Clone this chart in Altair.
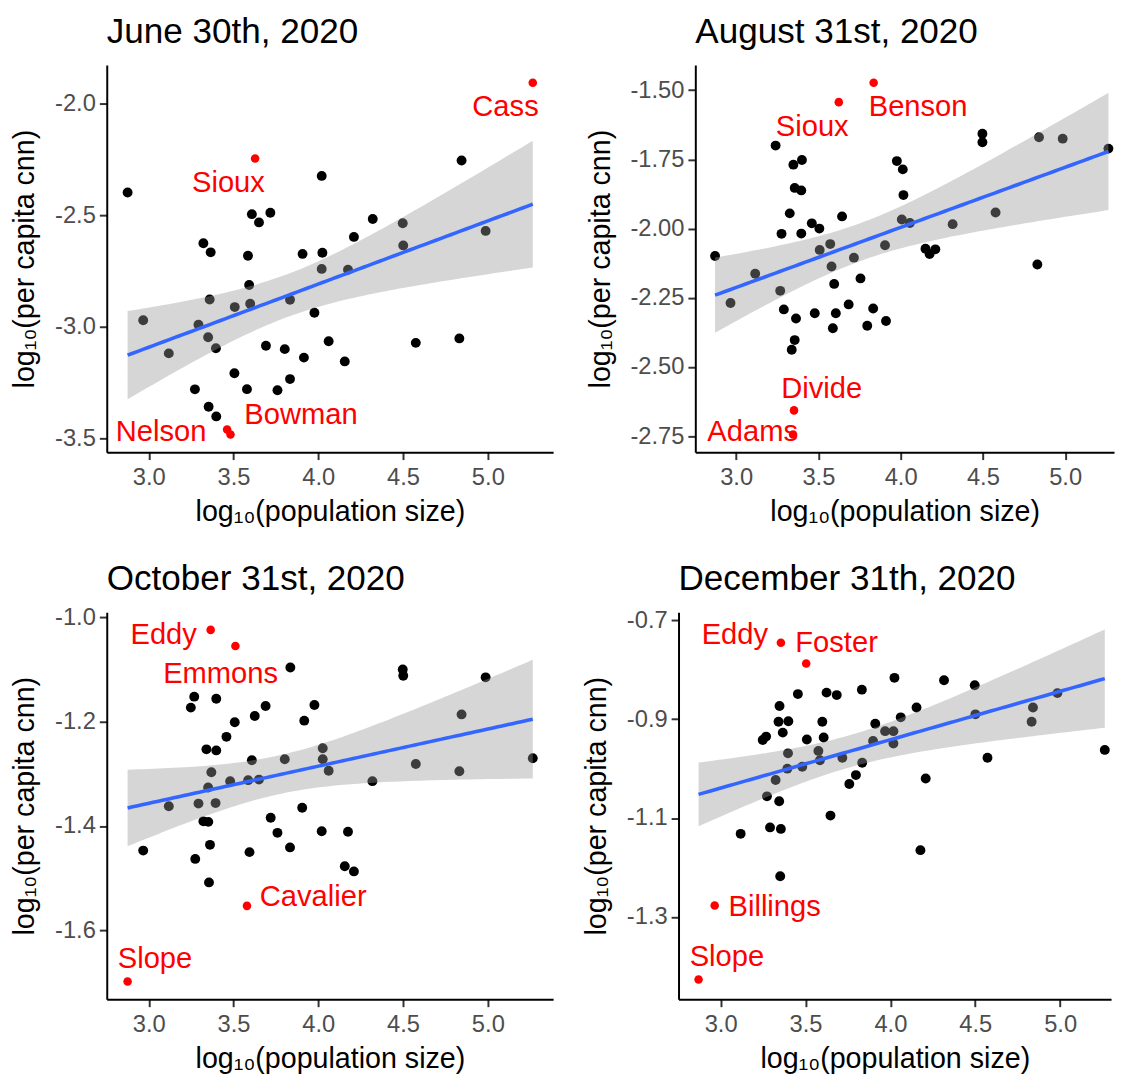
import altair as alt
import numpy as np
import pandas as pd

FONT = "Liberation Sans"

titles = ["June 30th, 2020", "August 31st, 2020", "October 31st, 2020", "December 31th, 2020"]
x_title = "log\u2081\u2080(population size)"
y_title = "log\u2081\u2080(per capita cnn)"
x_ticks = [3.0, 3.5, 4.0, 4.5, 5.0]

# ---------------- June 30th, 2020 ----------------
jun_x = [2.875, 2.967, 3.118, 3.293, 3.322, 3.365, 3.359, 3.350, 3.396, 3.272, 3.353, 3.398,
         3.507, 3.505, 3.579, 3.585, 3.592, 3.598, 3.608, 3.650, 3.717, 3.691, 3.759, 3.802,
         3.833, 3.833, 3.915, 3.907, 3.977, 4.020, 4.024, 4.020, 4.061, 4.156, 4.175, 4.210,
         4.321, 4.498, 4.501, 4.575, 4.832, 4.845, 4.987]
jun_y = [-2.398, -2.970, -3.118, -2.990, -2.625, -2.666, -2.877, -3.046, -3.095, -3.279, -3.357, -3.400,
         -2.911, -3.207, -3.278, -2.681, -2.812, -2.896, -2.495, -2.532, -2.489, -3.084, -3.283, -3.099,
         -2.878, -3.233, -3.137, -2.673, -2.936, -2.740, -2.668, -2.324, -3.064, -3.154, -2.744, -2.597,
         -2.517, -2.536, -2.635, -3.071, -3.051, -2.255, -2.570]
jun_red_names = ["Cass", "Sioux", "Bowman", "Nelson"]
jun_red_x = [5.265, 3.627, 3.482, 3.462]
jun_red_y = [-1.907, -2.246, -3.481, -3.459]
jun_y_ticks = [-3.5, -3.0, -2.5, -2.0]

# ---------------- August 31st, 2020 ----------------
aug_x = [3.240, 3.348, 3.400, 3.356, 3.396, 3.326, 3.276, 3.396, 3.460, 3.506, 3.644, 2.872,
         2.966, 3.116, 3.268, 3.290, 3.364, 3.356, 3.338, 3.508, 3.572, 3.580, 3.596, 3.478,
         3.606, 3.588, 3.716, 3.756, 3.684, 3.833, 3.797, 3.911, 3.905, 3.977, 4.013, 4.017,
         4.007, 4.056, 4.151, 4.176, 4.211, 4.316, 4.497, 4.497, 4.577, 4.831, 4.841, 4.985, 5.263]
aug_y = [-1.700, -1.769, -1.752, -1.853, -1.862, -1.945, -2.019, -2.018, -1.981, -2.000, -1.956, -2.099,
         -2.269, -2.163, -2.225, -2.292, -2.325, -2.403, -2.438, -2.077, -2.056, -2.137, -2.200, -2.306,
         -2.306, -2.360, -2.105, -2.180, -2.274, -2.289, -2.351, -2.334, -2.060, -1.756, -1.786, -1.879,
         -1.967, -1.980, -2.073, -2.092, -2.075, -1.984, -1.657, -1.688, -1.942, -2.130, -1.670, -1.675, -1.711]
aug_red_names = ["Benson", "Sioux", "Divide", "Adams"]
aug_red_x = [3.836, 3.624, 3.352, 3.346]
aug_red_y = [-1.473, -1.543, -2.657, -2.744]
aug_y_ticks = [-2.75, -2.5, -2.25, -2.0, -1.75, -1.5]

# ---------------- October 31st, 2020 ----------------
oct_x = [3.835, 3.268, 3.248, 3.398, 3.689, 3.977, 3.625, 3.507, 3.917, 3.458, 3.340, 3.398,
         3.608, 3.802, 3.369, 3.480, 3.586, 3.650, 3.350, 3.118, 3.293, 3.394, 3.905, 3.322,
         3.351, 3.719, 3.759, 4.020, 2.967, 3.361, 3.833, 3.594, 3.274, 3.355, 4.026, 4.026,
         4.061, 4.498, 4.501, 4.987, 4.845, 4.575, 4.319, 4.832, 5.265, 4.175, 4.156, 4.210]
oct_y = [-1.096, -1.152, -1.173, -1.156, -1.170, -1.168, -1.189, -1.201, -1.198, -1.229, -1.253, -1.255,
         -1.274, -1.272, -1.297, -1.314, -1.312, -1.311, -1.326, -1.362, -1.357, -1.356, -1.365, -1.391,
         -1.392, -1.384, -1.413, -1.410, -1.447, -1.436, -1.441, -1.450, -1.463, -1.508, -1.251, -1.272,
         -1.294, -1.100, -1.112, -1.115, -1.186, -1.281, -1.314, -1.295, -1.270, -1.411, -1.477, -1.487]
oct_red_names = ["Eddy", "Emmons", "Cavalier", "Slope"]
oct_red_x = [3.365, 3.511, 3.579, 2.875]
oct_red_y = [-1.024, -1.055, -1.553, -1.698]
oct_y_ticks = [-1.6, -1.4, -1.2, -1.0]

# ---------------- December 31th, 2020 ----------------
dec_x = [4.024, 3.455, 3.624, 3.684, 3.832, 3.347, 3.341, 3.399, 3.599, 3.911, 3.248, 3.268,
         3.366, 3.508, 3.607, 3.969, 4.018, 3.898, 4.018, 3.397, 3.576, 3.585, 3.717, 3.393,
         3.481, 3.834, 3.324, 3.797, 3.758, 3.273, 3.345, 3.647, 3.118, 3.291, 3.355, 3.351,
         4.061, 4.154, 4.316, 4.497, 4.501, 4.208, 4.177, 4.572, 4.840, 4.832, 4.984, 5.263]
dec_y = [-0.816, -0.849, -0.846, -0.851, -0.840, -0.873, -0.905, -0.904, -0.905, -0.909, -0.942, -0.935,
         -0.927, -0.941, -0.937, -0.924, -0.924, -0.944, -0.949, -0.969, -0.964, -0.983, -0.978, -1.000,
         -0.996, -0.988, -1.023, -1.013, -1.031, -1.056, -1.066, -1.095, -1.132, -1.119, -1.122, -1.218,
         -0.896, -0.876, -0.821, -0.831, -0.890, -1.020, -1.165, -0.978, -0.876, -0.905, -0.847, -0.962]
dec_red_names = ["Eddy", "Foster", "Billings", "Slope"]
dec_red_x = [3.355, 3.504, 2.965, 2.870]
dec_red_y = [-0.745, -0.787, -1.277, -1.427]
dec_y_ticks = [-1.3, -1.1, -0.9, -0.7]

# label placement (align, dx, dy in px relative to the point) - styling only
jun_label_style = [("right", 6, 34), ("center", -27, 34), ("left", 14, -11), ("right", -21, 12)]
aug_label_style = [("left", -5, 34), ("right", 10, 34), ("left", -13, -13), ("right", 5, 7)]
oct_label_style = [("right", -14, 14), ("center", -15, 37), ("left", 13, 0), ("left", -10, -14)]
dec_label_style = [("right", -13, 1), ("left", -11, -12), ("left", 14, 11), ("left", -9, -14)]

T_CRIT = 2.012  # t quantile for 95% CI, df ~ 45-50


def fmt_expr(f):
    return "replace(format(datum.value, '" + f + "'), '\u2212', '-')"


def panel(title, bx, by, rnames, rx, ry, styles, xdom, ydom, yticks, yfmt, width, height, title_offset):
    black = pd.DataFrame({"x": bx, "y": by})
    red = pd.DataFrame({"name": rnames, "x": rx, "y": ry})

    ax = np.array(bx + rx, dtype=float)
    ay = np.array(by + ry, dtype=float)
    n = len(ax)
    slope, icpt = np.polyfit(ax, ay, 1)
    resid = ay - (icpt + slope * ax)
    s = np.sqrt(np.sum(resid ** 2) / (n - 2))
    xbar = ax.mean()
    sxx = np.sum((ax - xbar) ** 2)
    grid = np.linspace(ax.min(), ax.max(), 80)
    fit = icpt + slope * grid
    se = s * np.sqrt(1.0 / n + (grid - xbar) ** 2 / sxx)
    band = pd.DataFrame({"x": grid, "fit": fit, "lo": fit - T_CRIT * se, "hi": fit + T_CRIT * se})

    xs = alt.Scale(domain=xdom, nice=False, zero=False)
    ys = alt.Scale(domain=ydom, nice=False, zero=False)
    xax = alt.Axis(values=x_ticks, labelExpr=fmt_expr(".1f"), title=x_title)
    yax = alt.Axis(values=yticks, labelExpr=fmt_expr(yfmt), title=y_title)

    def X(f):
        return alt.X(f, scale=xs, axis=xax)

    def Y(f):
        return alt.Y(f, scale=ys, axis=yax)

    pts = alt.Chart(black).mark_circle(size=100, color="black", opacity=1).encode(x=X("x:Q"), y=Y("y:Q"))
    ribbon = alt.Chart(band).mark_area(color="#999999", opacity=0.4).encode(
        x=X("x:Q"), y=Y("lo:Q"), y2="hi:Q")
    line = alt.Chart(band).mark_line(color="#3366FF", strokeWidth=3.6).encode(x=X("x:Q"), y=Y("fit:Q"))
    redpts = alt.Chart(red).mark_circle(size=75, color="#FF0000", opacity=1).encode(x=X("x:Q"), y=Y("y:Q"))

    labels = []
    for nm, (al, dx, dy) in zip(rnames, styles):
        labels.append(
            alt.Chart(red).transform_filter(alt.datum.name == nm).mark_text(
                align=al, dx=dx, dy=dy, baseline="alphabetic", fontSize=29.5, font=FONT, color="#FF0000"
            ).encode(x=X("x:Q"), y=Y("y:Q"), text="name:N")
        )

    return alt.layer(pts, ribbon, line, redpts, *labels).properties(
        width=width, height=height,
        title=alt.TitleParams(title, anchor="start", frame="group", fontSize=35.5, font=FONT,
                              fontWeight="normal", color="black", offset=title_offset),
    )


H = 392
p1 = panel(titles[0], jun_x, jun_y, jun_red_names, jun_red_x, jun_red_y, jun_label_style,
           [2.752, 5.385], [-3.56, -1.828], jun_y_ticks, ".1f", 452, H, 15)
p2 = panel(titles[1], aug_x, aug_y, aug_red_names, aug_red_x, aug_red_y, aug_label_style,
           [2.752, 5.297], [-2.808, -1.409], aug_y_ticks, ".2f", 424, H, 15)
p3 = panel(titles[2], oct_x, oct_y, oct_red_names, oct_red_x, oct_red_y, oct_label_style,
           [2.752, 5.385], [-1.732, -0.990], oct_y_ticks, ".1f", 452, H, 8.5)
p4 = panel(titles[3], dec_x, dec_y, dec_red_names, dec_red_x, dec_red_y, dec_label_style,
           [2.752, 5.300], [-1.467, -0.683], dec_y_ticks, ".1f", 438, H, 11.85)

row1 = alt.hconcat(p1, p2, spacing=33)
row2 = alt.hconcat(p3, p4, spacing=30)

chart = alt.vconcat(row1, row2, spacing=35).properties(
    padding={"left": 3, "top": 0, "right": 0, "bottom": 0}
).configure_view(stroke=None).configure_axis(
    grid=False,
    domainColor="black", domainWidth=2,
    tickColor="#333333", tickWidth=2, tickSize=7.5,
    labelFont=FONT, labelFontSize=24, labelColor="#4D4D4D",
    titleFont=FONT, titleFontSize=29, titleFontWeight="normal", titleColor="black",
).configure_axisX(labelPadding=6, titlePadding=9).configure_axisY(labelPadding=4, titlePadding=15)

chart.save("out.html", embed_options={"renderer": "svg", "actions": False})
